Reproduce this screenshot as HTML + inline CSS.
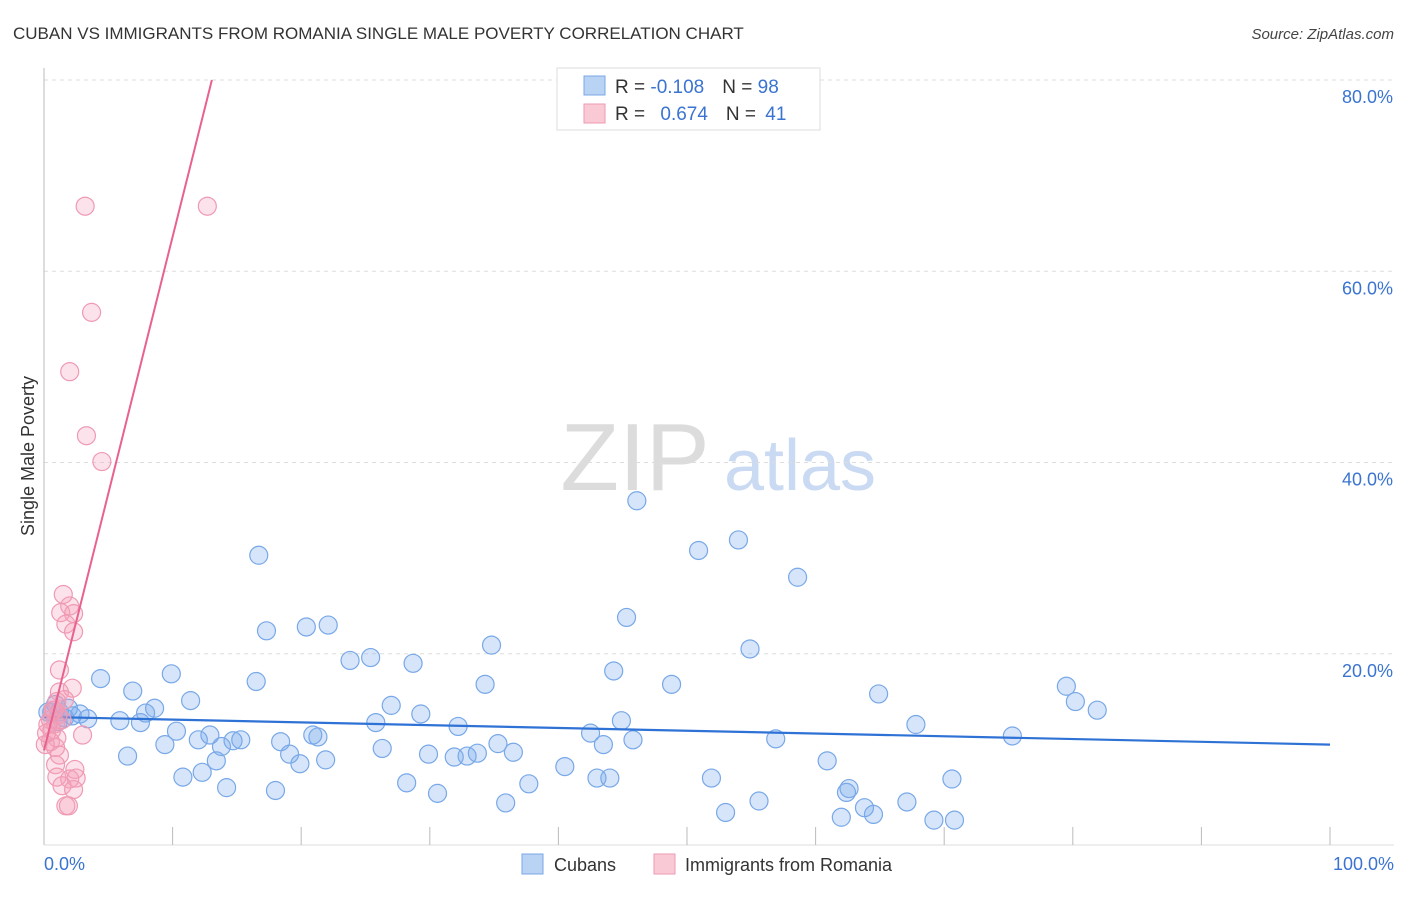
<!DOCTYPE html>
<html><head><meta charset="utf-8"><style>
body{margin:0;background:#fff;font-family:"Liberation Sans",sans-serif;}
svg text{font-family:"Liberation Sans",sans-serif;}
</style></head><body>
<svg id="chart" width="1406" height="892" xmlns="http://www.w3.org/2000/svg">
<text x="13" y="39" font-size="17" fill="#333">CUBAN VS IMMIGRANTS FROM ROMANIA SINGLE MALE POVERTY CORRELATION CHART</text>
<text x="1394" y="39" font-size="15" fill="#444" text-anchor="end" font-style="italic">Source: ZipAtlas.com</text>
<g>
<text x="635" y="490" font-size="96" fill="#dcdcdc" text-anchor="middle" font-family="Liberation Serif, serif">ZIP</text>
<text x="800" y="490" font-size="72" fill="#c9daf2" text-anchor="middle">atlas</text>
</g>
<g id="grid"></g>
<g id="axes"></g>
<g id="blue"></g>
<g id="pink"></g>
<text transform="translate(34,456) rotate(-90)" font-size="18" fill="#333" text-anchor="middle">Single Male Poverty</text>
<g>
<rect x="557" y="68" width="263" height="62" fill="#fff" stroke="#ddd"/>
<rect x="584" y="76" width="21" height="19" fill="#b9d3f5" stroke="#7aa7e6"/>
<rect x="584" y="104" width="21" height="19" fill="#f9c9d6" stroke="#ee9ab2"/>
<text x="615" y="93" font-size="19" fill="#333">R = <tspan fill="#3a74d0">-0.108</tspan><tspan dx="18">N = </tspan><tspan fill="#3a74d0">98</tspan></text>
<text x="615" y="120" font-size="19" fill="#333">R = <tspan fill="#3a74d0" dx="10">0.674</tspan><tspan dx="18">N = </tspan><tspan fill="#3a74d0" dx="4">41</tspan></text>
</g>
<g>
<rect x="522" y="854" width="21" height="20" fill="#b9d3f5" stroke="#7aa7e6"/>
<text x="554" y="871" font-size="18" fill="#333">Cubans</text>
<rect x="654" y="854" width="21" height="20" fill="#f9c9d6" stroke="#ee9ab2"/>
<text x="685" y="871" font-size="18" fill="#333">Immigrants from Romania</text>
</g>
</svg>
<script>
const blueX=[46.1,50.9,54.0,58.6,16.7,45.3,17.3,20.4,22.1,34.8,54.9,23.8,25.4,28.7,44.3,9.9,4.4,16.5,34.3,48.8,79.5,6.9,64.9,11.4,27.0,80.2,81.9,8.6,29.3,7.9,2.8,1.9,1.2,0.6,3.4,5.9,7.5,25.8,44.9,67.8,32.2,10.3,12.9,21.3,20.9,42.5,75.3,12.0,14.7,15.3,18.4,9.4,45.8,56.9,35.3,43.5,26.3,13.8,19.1,29.9,31.9,32.9,33.7,36.5,6.5,21.9,13.4,19.9,60.9,40.5,10.8,12.3,51.9,43.0,44.0,70.6,28.2,37.7,14.2,18.0,30.6,62.6,62.4,55.6,35.9,67.1,63.8,64.5,53.0,62.0,69.2,70.8,0.9,0.3,1.1,2.2,1.6];
const blueY=[36.0,30.8,31.9,28.0,30.3,23.8,22.4,22.8,23.0,20.9,20.5,19.3,19.6,19.0,18.2,17.9,17.4,17.1,16.8,16.8,16.6,16.1,15.8,15.1,14.6,15.0,14.1,14.3,13.7,13.8,13.7,14.3,13.9,13.9,13.2,13.0,12.8,12.8,13.0,12.6,12.4,11.9,11.5,11.3,11.5,11.7,11.4,11.0,10.9,11.0,10.8,10.5,11.0,11.1,10.6,10.5,10.1,10.3,9.5,9.5,9.2,9.3,9.6,9.7,9.3,8.9,8.8,8.5,8.8,8.2,7.1,7.6,7.0,7.0,7.0,6.9,6.5,6.4,6.0,5.7,5.4,5.9,5.5,4.6,4.4,4.5,3.9,3.2,3.4,2.9,2.6,2.6,14.7,13.9,12.9,13.5,13.3];
const pinkX=[3.2,12.7,3.7,2.0,3.3,4.5,1.5,2.0,1.3,2.3,1.7,2.3,1.2,2.2,1.2,1.6,0.7,1.1,0.5,0.9,1.4,0.6,1.0,3.0,0.5,0.9,1.2,0.9,2.4,1.0,2.0,2.5,1.4,2.3,1.7,1.9,0.3,0.1,0.8,1.0,0.2];
const pinkY=[66.8,66.8,55.7,49.5,42.8,40.1,26.2,25.0,24.3,24.2,23.1,22.3,18.3,16.4,16.0,15.2,14.1,13.6,13.1,12.7,13.1,12.0,11.2,11.5,10.8,10.2,9.4,8.4,7.9,7.1,6.9,7.0,6.2,5.8,4.1,4.1,12.6,10.5,14.1,15.0,11.7];
const blueTrend=[13.4,10.5];
const pinkTrend=[9.9,5.37];
const yTicks=[20,40,60,80];
const xTickLabels=["0.0%","100.0%"];
const NS="http://www.w3.org/2000/svg";
const X0=44,X1=1330,Y0=845,Y80=80;
const sx=v=>X0+(X1-X0)*v/100;
const sy=v=>Y0-(Y0-Y80)*v/80;
function mk(tag,attrs,parent){const e=document.createElementNS(NS,tag);for(const k in attrs)e.setAttribute(k,attrs[k]);parent.appendChild(e);return e;}
const grid=document.getElementById('grid'),axes=document.getElementById('axes');
yTicks.forEach(t=>{
 const l=mk('line',{x1:X0,x2:1394,y1:sy(t),y2:sy(t),stroke:'#ddd','stroke-dasharray':'4,4'},grid);
 
 
 const tx=mk('text',{x:1393,y:sy(t)+23,'font-size':18,fill:'#3a74d0','text-anchor':'end'},axes);
 tx.textContent=t.toFixed(1)+'%';
 
 
});
const al=mk('line',{x1:X0,x2:X0,y1:68,y2:Y0,stroke:'#bbb'},axes);


const bl=mk('line',{x1:X0,x2:1394,y1:Y0,y2:Y0,stroke:'#ddd'},axes);


for(let i=1;i<=10;i++){
 const t=mk('line',{x1:sx(i*10),x2:sx(i*10),y1:827,y2:Y0,stroke:'#bbb'},axes);
 
 
}
[[0,'start',44],[100,'end',1394]].forEach((d,i)=>{
 const tx=mk('text',{x:d[2],y:870,'font-size':18,fill:'#3a74d0','text-anchor':d[1]},axes);
 tx.textContent=xTickLabels[i];
 
 
});
function pts(g,xs,ys,fill,stroke,name){
 xs.forEach((x,i)=>{
  const c=mk('circle',{cx:sx(x),cy:sy(ys[i]),r:9,fill:fill,stroke:stroke,'stroke-width':1.2},g);
  
  
 });
}
const bg=document.getElementById('blue'),pg=document.getElementById('pink');
pts(bg,blueX,blueY,'rgba(120,170,235,0.3)','#78a8e8','cuban-point');
pts(pg,pinkX,pinkY,'rgba(245,160,185,0.3)','#ef9ab3','romania-point');
const bt=mk('line',{x1:sx(0),y1:sy(blueTrend[0]),x2:sx(100),y2:sy(blueTrend[1]),stroke:'#2f72d6','stroke-width':2.2},bg);


const xEnd=(80-pinkTrend[0])/pinkTrend[1];
const pt=mk('line',{x1:sx(0),y1:sy(pinkTrend[0]),x2:sx(xEnd),y2:sy(80),stroke:'#e8628e','stroke-width':2},pg);


</script>
</body></html>
